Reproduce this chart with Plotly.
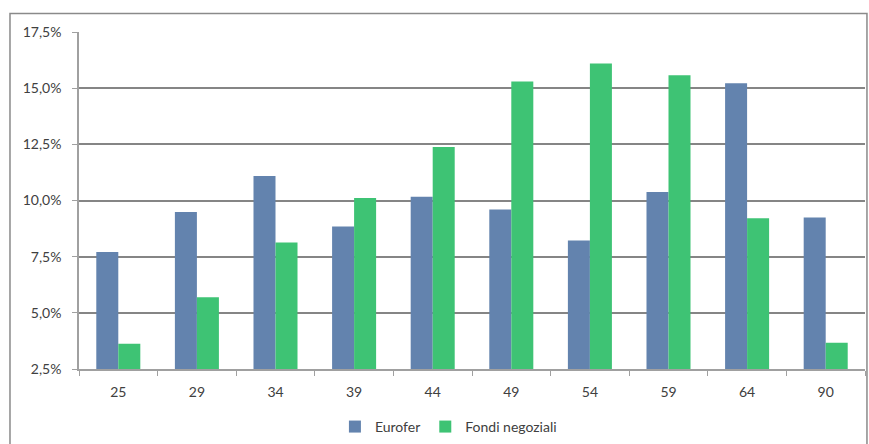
import plotly.graph_objects as go

# Age classes (upper bound of each band)
eta = ["25", "29", "34", "39", "44", "49", "54", "59", "64", "90"]

# Share of members per age class (%)
eurofer = [7.71, 9.49, 11.09, 8.84, 10.17, 9.60, 8.22, 10.38, 15.22, 9.24]
fondi_negoziali = [3.62, 5.69, 8.13, 10.11, 12.38, 15.30, 16.10, 15.58, 9.21, 3.67]

y_ticks = [2.5, 5.0, 7.5, 10.0, 12.5, 15.0, 17.5]
y_tick_labels = ["2,5%", "5,0%", "7,5%", "10,0%", "12,5%", "15,0%", "17,5%"]

FONT = "Lato"
TEXT = "#404040"
GRID = "#858585"

fig = go.Figure()
fig.add_trace(go.Bar(x=eta, y=eurofer, name="Eurofer",
                     marker=dict(color="#6383ae", line=dict(width=0))))
fig.add_trace(go.Bar(x=eta, y=fondi_negoziali, name="Fondi negoziali",
                     marker=dict(color="#3ec374", line=dict(width=0))))

fig.update_layout(
    width=869, height=444,
    margin=dict(l=79, r=4, t=32, b=75, autoexpand=False),
    paper_bgcolor="white", plot_bgcolor="white",
    barmode="group", bargap=0.44, bargroupgap=0,
    font=dict(family=FONT, size=14, color=TEXT),
    legend=dict(orientation="h", x=0.47, xanchor="center", y=-0.172, yanchor="middle",
                font=dict(size=14, color=TEXT), itemwidth=30, traceorder="normal"),
    xaxis=dict(type="category", showgrid=False, showline=True, linecolor="#a0a0a0",
               linewidth=1.5, ticks="outside", tickson="boundaries", ticklen=5,
               tickcolor="#a0a0a0", ticklabelstandoff=9, automargin=False,
               tickfont=dict(size=14, color=TEXT)),
    yaxis=dict(range=[2.5, 17.5], tickvals=y_ticks, ticktext=y_tick_labels,
               showgrid=True, gridcolor=GRID, gridwidth=1.5, showline=True,
               linecolor="#a0a0a0", linewidth=1.5, ticks="outside", ticklen=5,
               tickcolor="#a0a0a0", zeroline=False, ticklabelstandoff=8,
               automargin=False, tickfont=dict(size=14, color=TEXT)),
    shapes=[dict(type="rect", xref="paper", yref="paper",
                 x0=-0.0878, x1=1.0025, y0=-0.4, y1=1.0549,
                 line=dict(color="#8a8a8a", width=1.5), fillcolor="rgba(0,0,0,0)",
                 layer="below")],
)

fig.write_html("out.html")
